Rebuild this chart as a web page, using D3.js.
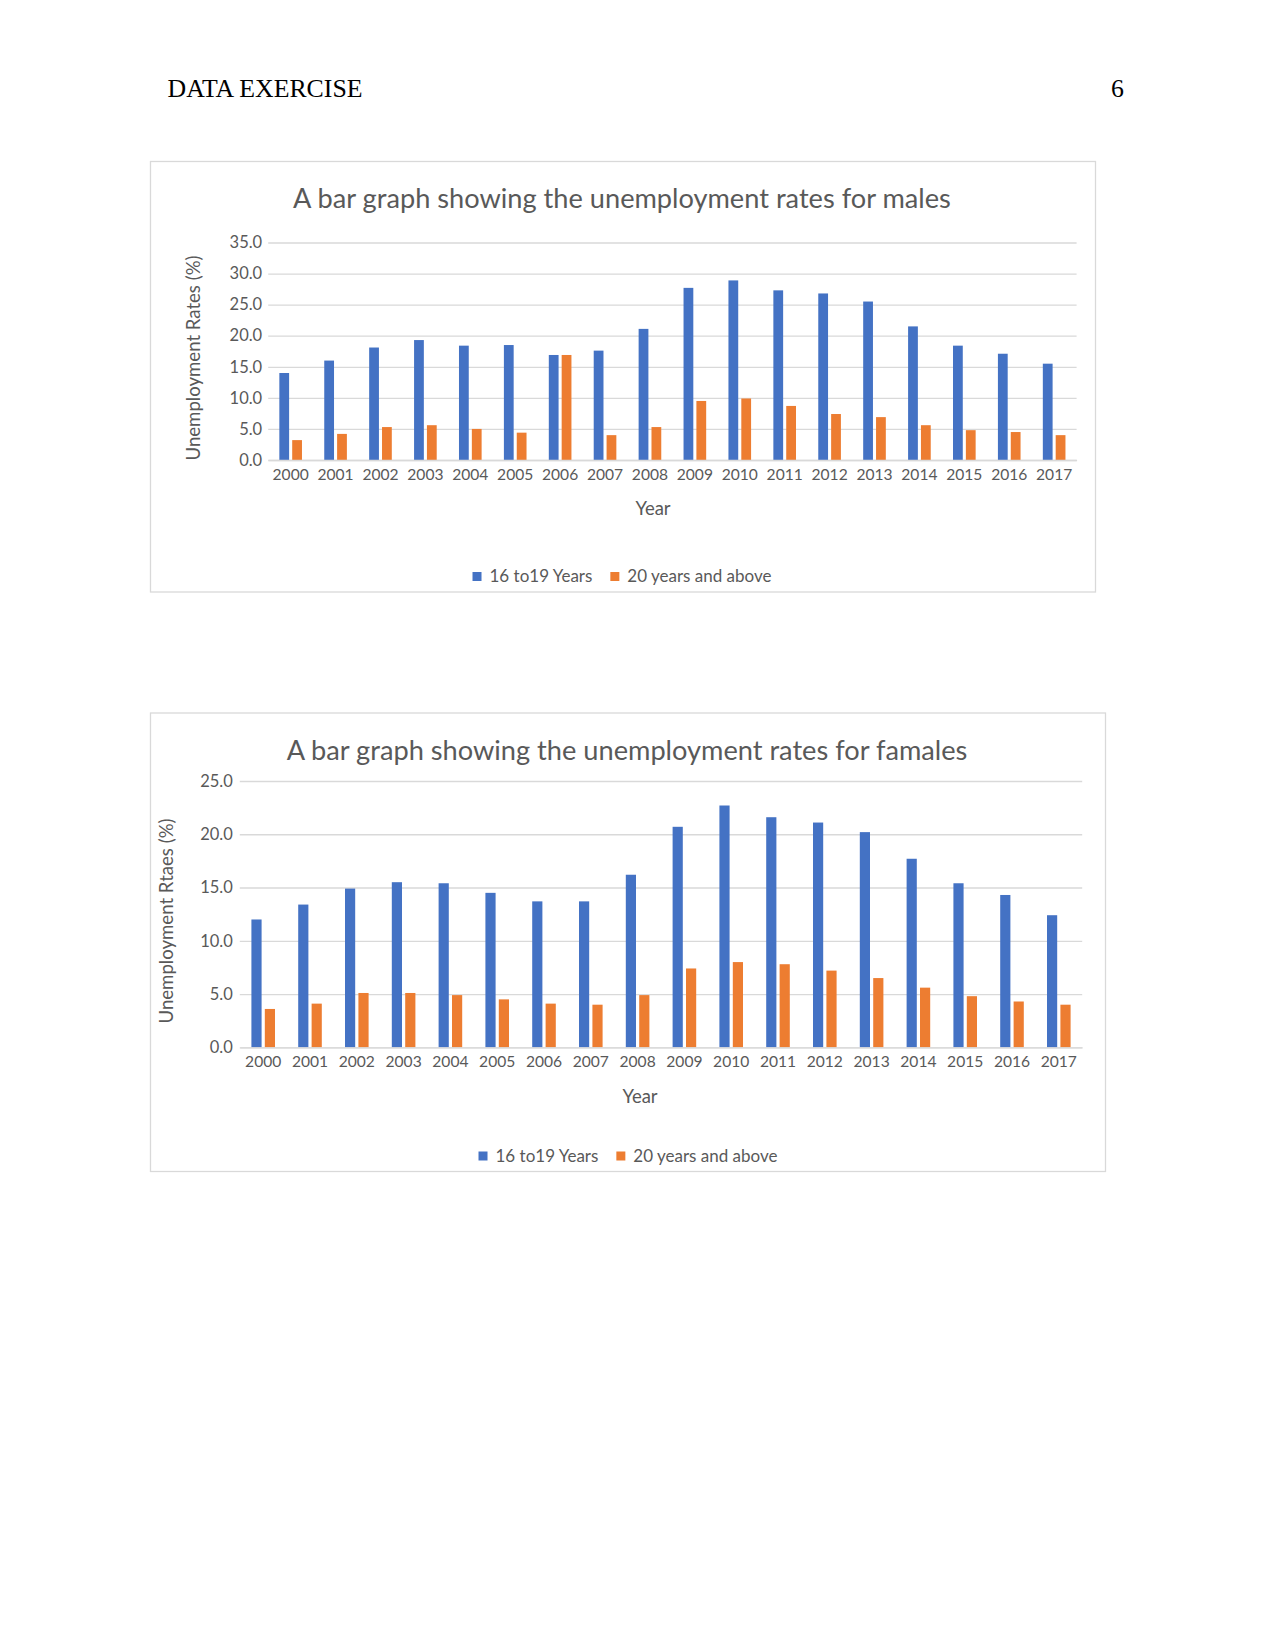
<!DOCTYPE html>
<html>
<head>
<meta charset="utf-8">
<script src="https://cdn.jsdelivr.net/npm/d3@7"></script>
<style>
  html, body { margin: 0; padding: 0; background: #ffffff; }
  svg { display: block; }
</style>
</head>
<body>
<svg id="page" width="1275" height="1651"></svg>
<script>
// ---------------- DATA ----------------
const years = ["2000","2001","2002","2003","2004","2005","2006","2007","2008",
               "2009","2010","2011","2012","2013","2014","2015","2016","2017"];
const seriesNames = ["16 to19 Years", "20 years and above"];

const maleTeen  = [14.0, 16.0, 18.1, 19.3, 18.4, 18.5, 16.9, 17.6, 21.1,
                   27.7, 28.9, 27.3, 26.8, 25.5, 21.5, 18.4, 17.1, 15.5];
const maleAdult = [3.2, 4.2, 5.3, 5.6, 5.0, 4.4, 16.9, 4.0, 5.3,
                   9.5, 9.9, 8.7, 7.4, 6.9, 5.6, 4.8, 4.5, 4.0];

const femaleTeen  = [12.0, 13.4, 14.9, 15.5, 15.4, 14.5, 13.7, 13.7, 16.2,
                     20.7, 22.7, 21.6, 21.1, 20.2, 17.7, 15.4, 14.3, 12.4];
const femaleAdult = [3.6, 4.1, 5.1, 5.1, 4.9, 4.5, 4.1, 4.0, 4.9,
                     7.4, 8.0, 7.8, 7.2, 6.5, 5.6, 4.8, 4.3, 4.0];

const maleTicks   = [0, 5, 10, 15, 20, 25, 30, 35];
const femaleTicks = [0, 5, 10, 15, 20, 25];

const maleTitle   = "A bar graph showing the unemployment rates for males";
const femaleTitle = "A bar graph showing the unemployment rates for famales";
const maleYTitle   = "Unemployment Rates (%)";
const femaleYTitle = "Unemployment Rtaes (%)";
const xTitle = "Year";

// ---------------- STYLE ----------------
const COLORS = ["#4472C4", "#ED7D31"];
const TEXT = "#595959";
const GRID = "#D9D9D9";
const FONT = "Lato, 'Open Sans', sans-serif";
const SERIF = "'Liberation Serif', 'Times New Roman', serif";

const svg = d3.select("#page");

// page header
svg.append("text").attr("x", 167.5).attr("y", 97)
  .attr("font-family", SERIF).attr("font-size", 25.8).attr("fill", "#000").text("DATA EXERCISE");
svg.append("text").attr("x", 1124).attr("y", 97).attr("text-anchor", "end")
  .attr("font-family", SERIF).attr("font-size", 25.8).attr("fill", "#000").text("6");

function drawChart(cfg) {
  const g = svg.append("g");
  // chart frame
  g.append("rect")
    .attr("x", cfg.box[0]).attr("y", cfg.box[1])
    .attr("width", cfg.box[2] - cfg.box[0]).attr("height", cfg.box[3] - cfg.box[1])
    .attr("fill", "#fff").attr("stroke", GRID).attr("stroke-width", 1.3);

  const x = d3.scaleBand().domain(cfg.categories).range([cfg.left, cfg.right]).paddingInner(0).paddingOuter(0);
  const xs = d3.scaleBand().domain([0, 1])
    .range([x.bandwidth() * 0.248, x.bandwidth() * 0.752]).paddingInner(0.24);
  const y = d3.scaleLinear().domain([0, cfg.yMax]).range([cfg.bottom, cfg.top]);

  // gridlines + y labels
  const yAxis = d3.axisLeft(y).tickValues(cfg.ticks).tickFormat(d3.format(".1f"))
    .tickSize(-(cfg.right - cfg.left)).tickPadding(cfg.yPad);
  const ya = g.append("g").attr("transform", `translate(${cfg.left},0)`).call(yAxis);
  ya.select(".domain").remove();
  ya.selectAll(".tick line").attr("stroke", GRID).attr("stroke-width", 1.3);
  ya.selectAll(".tick text").attr("fill", TEXT).attr("font-family", FONT).attr("font-size", 16.5);

  // bars
  const series = [cfg.s1, cfg.s2];
  series.forEach((vals, si) => {
    g.append("g").selectAll("rect").data(vals).join("rect")
      .attr("x", (d, i) => x(cfg.categories[i]) + xs(si))
      .attr("width", xs.bandwidth())
      .attr("y", d => y(d))
      .attr("height", d => y(0) - y(d))
      .attr("fill", COLORS[si]);
  });

  // x axis
  const xAxis = d3.axisBottom(x).tickSize(0).tickPadding(8.5);
  const xa = g.append("g").attr("transform", `translate(0,${cfg.bottom})`).call(xAxis);
  xa.select(".domain").attr("stroke", GRID).attr("stroke-width", 1.3);
  xa.selectAll(".tick text").attr("fill", TEXT).attr("font-family", FONT).attr("font-size", 15.6);

  // title
  g.append("text").attr("x", cfg.titleX).attr("y", cfg.titleY).attr("text-anchor", "middle")
    .attr("font-family", FONT).attr("font-size", 27.2).attr("fill", TEXT).text(cfg.title);

  // axis titles
  g.append("text").attr("x", cfg.xTitlePos[0]).attr("y", cfg.xTitlePos[1]).attr("text-anchor", "middle")
    .attr("font-family", FONT).attr("font-size", 18.5).attr("fill", TEXT).text(xTitle);
  g.append("text")
    .attr("transform", `translate(${cfg.yTitlePos[0]},${cfg.yTitlePos[1]}) rotate(-90)`)
    .attr("text-anchor", "middle").attr("dominant-baseline", "central")
    .attr("font-family", FONT).attr("font-size", 18.6).attr("fill", TEXT).text(cfg.yTitle);

  // legend (centered)
  const lg = g.append("g");
  const sq = 9, gapSq = 8, gapItem = 18;
  let cx = 0;
  seriesNames.forEach((name, i) => {
    const it = lg.append("g");
    it.append("rect").attr("x", 0).attr("y", -sq / 2).attr("width", sq).attr("height", sq).attr("fill", COLORS[i]);
    const t = it.append("text").attr("x", sq + gapSq).attr("y", 5.8)
      .attr("font-family", FONT).attr("font-size", 17).attr("fill", TEXT).text(name);
    const w = sq + gapSq + t.node().getComputedTextLength();
    it.attr("transform", `translate(${cx},0)`);
    cx += w + gapItem;
  });
  const total = cx - gapItem;
  lg.attr("transform", `translate(${cfg.legendCX - total / 2},${cfg.legendY})`);
}

drawChart({
  box: [150.5, 161.5, 1095.5, 592],
  categories: years, s1: maleTeen, s2: maleAdult, ticks: maleTicks, yMax: 35,
  left: 268.2, right: 1076.6, top: 242.5, bottom: 460, yPad: 6,
  title: maleTitle, titleX: 622, titleY: 207.5,
  yTitle: maleYTitle, yTitlePos: [193, 358],
  xTitlePos: [653, 515],
  legendCX: 622, legendY: 576.5
});

drawChart({
  box: [150.5, 713, 1105.5, 1171.5],
  categories: years, s1: femaleTeen, s2: femaleAdult, ticks: femaleTicks, yMax: 25,
  left: 239.8, right: 1082.2, top: 781, bottom: 1047.3, yPad: 7,
  title: femaleTitle, titleX: 627, titleY: 760,
  yTitle: femaleYTitle, yTitlePos: [166, 921],
  xTitlePos: [640, 1103],
  legendCX: 628, legendY: 1156
});
</script>
</body>
</html>
